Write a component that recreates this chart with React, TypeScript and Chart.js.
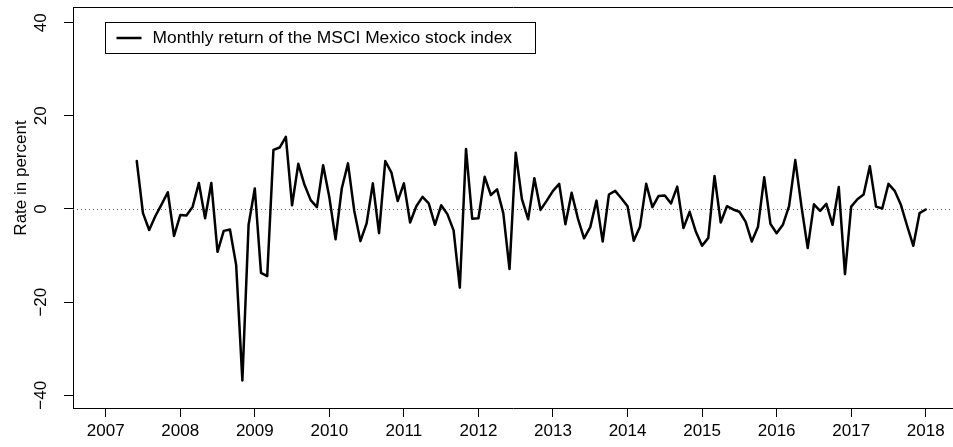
import React, { useEffect, useRef } from "react";
import { Chart, registerables } from "chart.js";

Chart.register(...registerables);

// ---- Data (monthly return in percent, MSCI Mexico) ----
const START_YEAR = 2007;
const START_MONTH = 6; // June 2007
const returns2007 = [10.3, -0.9, -4.5, -1.5, 1.0, 3.6, -5.8];
const returns2008 = [-1.3, -1.4, 0.5, 5.6, -2.0, 5.6, -9.2, -4.7, -4.4, -12.0, -36.8, -3.4];
const returns2009 = [4.4, -13.7, -14.4, 12.7, 13.2, 15.5, 0.8, 9.7, 5.2, 1.9, 0.4, 9.4];
const returns2010 = [2.5, -6.5, 4.4, 9.8, -0.3, -6.9, -3.1, 5.5, -5.2, 10.3, 7.8, 1.7];
const returns2011 = [5.5, -2.9, 0.6, 2.6, 1.2, -3.4, 0.8, -1.1, -4.6, -16.9, 12.9, -2.1];
const returns2012 = [-2.0, 6.9, 3.0, 4.2, -0.9, -12.9, 12.1, 2.1, -2.2, 6.6, -0.2, 1.8];
const returns2013 = [3.9, 5.4, -3.3, 3.5, -2.0, -6.3, -3.9, 1.8, -7.0, 3.1, 3.9, 2.3];
const returns2014 = [0.6, -6.8, -3.8, 5.4, 0.4, 2.8, 2.9, 1.2, 4.8, -4.1, -0.6, -4.9];
const returns2015 = [-7.9, -6.2, 7.1, -2.9, 0.6, -0.1, -0.6, -2.7, -7.0, -3.8, 6.8, -3.2];
const returns2016 = [-5.2, -3.4, 0.6, 10.5, 0.5, -8.4, 1.0, -0.4, 1.1, -3.4, 4.7, -14.0];
const returns2017 = [0.5, 2.1, 3.1, 9.2, 0.5, 0.1, 5.4, 3.9, 0.9, -3.6, -7.9, -0.9];
const returns2018 = [-0.1];

const xTickYears = [2007, 2008, 2009, 2010, 2011, 2012, 2013, 2014, 2015, 2016, 2017, 2018];
const yTickValues = [-40, -20, 0, 20, 40];
const SERIES_LABEL = "Monthly return of the MSCI Mexico stock index";
const Y_TITLE = "Rate in percent";

const X_MIN = 2006.5614;
const X_MAX = 2018.3656;
const Y_MIN = -42.73;
const Y_MAX = 43.37;

const FONT = '"Liberation Sans", Arial, Helvetica, sans-serif';
const FONT_SIZE = 17;
const LEGEND_FONT_SIZE = 17.4;

const allReturns = [
  ...returns2007, ...returns2008, ...returns2009, ...returns2010,
  ...returns2011, ...returns2012, ...returns2013, ...returns2014,
  ...returns2015, ...returns2016, ...returns2017, ...returns2018,
];
const points = allReturns.map((v, i) => ({
  x: START_YEAR + (START_MONTH - 1 + i) / 12,
  y: v,
}));

const fmt = (v: number) => (v < 0 ? "\u2212" + Math.abs(v) : String(v));

const decorPlugin = {
  id: "decor",
  beforeDatasetsDraw(chart: any) {
    const { ctx, chartArea, scales } = chart;
    const y0 = Math.round(scales.y.getPixelForValue(0)) + 0.5;
    ctx.save();
    ctx.strokeStyle = "#666";
    ctx.lineWidth = 1;
    ctx.setLineDash([1, 3]);
    ctx.beginPath();
    ctx.moveTo(chartArea.left, y0);
    ctx.lineTo(chartArea.right, y0);
    ctx.stroke();
    ctx.restore();
  },
  afterDraw(chart: any) {
    const { ctx, chartArea, scales } = chart;
    ctx.save();
    // top border of the box
    ctx.strokeStyle = "#000";
    ctx.lineWidth = 1;
    ctx.beginPath();
    ctx.moveTo(chartArea.left, Math.round(chartArea.top) + 0.5);
    ctx.lineTo(chartArea.right + 2, Math.round(chartArea.top) + 0.5);
    ctx.stroke();

    // y tick labels (rotated, R style)
    ctx.fillStyle = "#000";
    ctx.font = `${FONT_SIZE}px ${FONT}`;
    ctx.textAlign = "center";
    ctx.textBaseline = "middle";
    for (const v of yTickValues) {
      const py = scales.y.getPixelForValue(v);
      ctx.save();
      ctx.translate(41, py);
      ctx.rotate(-Math.PI / 2);
      ctx.fillText(fmt(v), 0, 0);
      ctx.restore();
    }

    // y axis title
    ctx.save();
    ctx.translate(21, 178);
    ctx.rotate(-Math.PI / 2);
    ctx.fillText(Y_TITLE, 0, 0);
    ctx.restore();

    // legend
    const lx = 105.5, ly = 22.5, lw = 430, lh = 31;
    ctx.fillStyle = "#fff";
    ctx.fillRect(lx, ly, lw, lh);
    ctx.strokeStyle = "#000";
    ctx.lineWidth = 1;
    ctx.strokeRect(lx, ly, lw, lh);
    ctx.lineWidth = 2.5;
    ctx.beginPath();
    ctx.moveTo(116.5, 38);
    ctx.lineTo(141.5, 38);
    ctx.stroke();
    ctx.fillStyle = "#000";
    ctx.font = `${LEGEND_FONT_SIZE}px ${FONT}`;
    ctx.textAlign = "left";
    ctx.textBaseline = "middle";
    ctx.fillText(SERIES_LABEL, 152.5, 38.5);
    ctx.restore();
  },
};

export default function App() {
  const ref = useRef<HTMLCanvasElement | null>(null);
  useEffect(() => {
    if (!ref.current) return;
    const chart = new Chart(ref.current, {
      type: "line",
      data: {
        datasets: [
          {
            label: SERIES_LABEL,
            data: points,
            borderColor: "#000",
            borderWidth: 2.5,
            pointRadius: 0,
            tension: 0,
            borderJoinStyle: "round",
            borderCapStyle: "round",
          },
        ],
      },
      options: {
        animation: false,
        responsive: false,
        devicePixelRatio: 1,
        layout: { padding: { top: 7, right: 0, left: 0, bottom: 0 } },
        plugins: { legend: { display: false }, tooltip: { enabled: false } },
        scales: {
          x: {
            type: "linear",
            min: X_MIN,
            max: X_MAX,
            afterFit: (s: any) => { s.height = 39; },
            afterBuildTicks: (s: any) => { s.ticks = xTickYears.map((v) => ({ value: v })); },
            ticks: {
              color: "#000",
              font: { family: FONT, size: FONT_SIZE },
              padding: 4,
              maxRotation: 0,
              minRotation: 0,
              autoSkip: false,
              callback: (v: any) => String(v),
            },
            grid: { drawOnChartArea: false, drawTicks: true, tickLength: 9, color: "#000", lineWidth: 1 },
            border: { display: true, color: "#000", width: 1 },
          },
          y: {
            type: "linear",
            min: Y_MIN,
            max: Y_MAX,
            afterFit: (s: any) => { s.width = 73; },
            afterBuildTicks: (s: any) => { s.ticks = yTickValues.map((v) => ({ value: v })); },
            ticks: { display: false },
            grid: { drawOnChartArea: false, drawTicks: true, tickLength: 9, color: "#000", lineWidth: 1 },
            border: { display: true, color: "#000", width: 1 },
          },
        },
      },
      plugins: [decorPlugin],
    } as any);
    return () => chart.destroy();
  }, []);
  return (
    <div style={{ position: "fixed", left: 0, top: 0, width: 953, height: 447, background: "#fff" }}>
      <canvas ref={ref} width={953} height={447} style={{ display: "block", width: 953, height: 447 }} />
    </div>
  );
}
